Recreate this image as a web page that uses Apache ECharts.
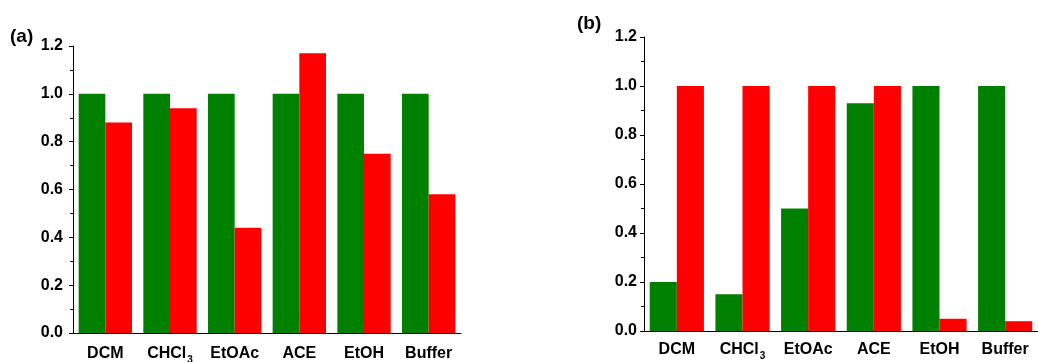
<!DOCTYPE html>
<html>
<head>
<meta charset="utf-8">
<script src="https://cdn.jsdelivr.net/npm/echarts@6/dist/echarts.min.js"></script>
<style>html,body{margin:0;padding:0;background:#fff;}#c{width:1038px;height:362px;}</style>
</head>
<body>
<div id="c"></div>
<script>
const categories = ['DCM', 'CHCl3', 'EtOAc', 'ACE', 'EtOH', 'Buffer'];
const greenA = [1.0, 1.0, 1.0, 1.0, 1.0, 1.0];
const redA = [0.88, 0.94, 0.44, 1.17, 0.75, 0.58];
const greenB = [0.20, 0.15, 0.50, 0.93, 1.0, 1.0];
const redB = [1.0, 1.0, 1.0, 1.0, 0.05, 0.04];
const yTicks = [0.0, 0.2, 0.4, 0.6, 0.8, 1.0, 1.2];

const FONT = '"Liberation Sans", Arial, sans-serif';
const chart = echarts.init(document.getElementById('c'), null, {renderer: 'canvas'});

const grids = [
  {left: 73, right: 577, top: 46, bottom: 29, outerBoundsMode: 'none', containLabel: false},
  {left: 644, right: 0, top: 37, bottom: 31, outerBoundsMode: 'none', containLabel: false}
];
const xMargins = [12, 10];
const yMargins = [10, 7];

function catLabel(v) {
  if (v === 'CHCl3') return '{n|CHCl}{s|3}';
  return '{n|' + v + '}';
}

const xAxes = [], yAxes = [];
grids.forEach((g, i) => {
  xAxes.push({
    type: 'category', gridIndex: i, data: categories, position: 'bottom',
    axisLine: {lineStyle: {color: '#000', width: 1}},
    axisTick: {alignWithLabel: true, length: 4, interval: 0, lineStyle: {color: '#000'}},
    axisLabel: {
      interval: 0, margin: xMargins[i], color: '#000', formatter: catLabel,
      rich: {
        n: {fontFamily: FONT, fontWeight: 'bold', fontSize: 16, color: '#000', lineHeight: 18},
        s: {fontFamily: FONT, fontWeight: 'bold', fontSize: 10, color: '#000', lineHeight: 18, padding: [13, 0, 0, 1]}
      }
    },
    splitLine: {show: false}
  });
  xAxes.push({
    type: 'category', gridIndex: i, data: categories, position: 'bottom',
    axisLine: {show: false},
    axisTick: {length: 2, interval: 0, lineStyle: {color: '#000'}},
    axisLabel: {show: false},
    splitLine: {show: false}
  });
  yAxes.push({
    type: 'value', gridIndex: i, min: yTicks[0], max: yTicks[yTicks.length - 1], interval: 0.2,
    axisLine: {show: true, lineStyle: {color: '#000', width: 1}},
    axisTick: {show: true, length: 4, lineStyle: {color: '#000'}},
    minorTick: {show: true, splitNumber: 2, length: 3, lineStyle: {color: '#000'}},
    axisLabel: {
      margin: yMargins[i], color: '#000', fontFamily: FONT, fontWeight: 'bold', fontSize: 16,
      formatter: v => v.toFixed(1)
    },
    splitLine: {show: false}
  });
});

const GREEN = '#008000', RED = '#ff0000';
function bars(xi, yi, data, color) {
  return {
    type: 'bar', xAxisIndex: xi, yAxisIndex: yi, data: data,
    itemStyle: {color: color}, barGap: '0%', barCategoryGap: '17.5%',
    animation: false, silent: true
  };
}

chart.setOption({
  animation: false,
  grid: grids,
  xAxis: xAxes,
  yAxis: yAxes,
  series: [
    bars(0, 0, greenA, GREEN),
    bars(0, 0, redA, RED),
    bars(2, 1, greenB, GREEN),
    bars(2, 1, redB, RED)
  ],
  graphic: [
    {type: 'text', left: 10, top: 27, style: {text: '(a)', fontFamily: FONT, fontWeight: 'bold', fontSize: 19, fill: '#000'}},
    {type: 'text', left: 577, top: 14, style: {text: '(b)', fontFamily: FONT, fontWeight: 'bold', fontSize: 19, fill: '#000'}}
  ]
});
</script>
</body>
</html>
